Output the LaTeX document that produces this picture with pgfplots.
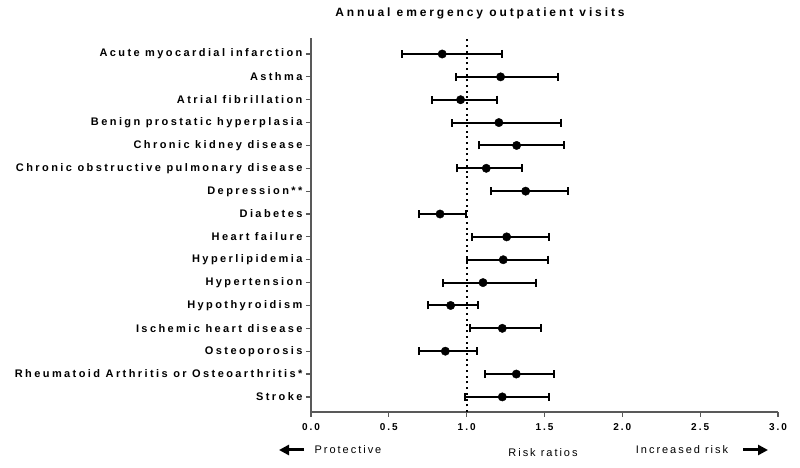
\documentclass[border=0pt]{standalone}
\usepackage{fontspec}
\setmainfont{Liberation Sans}
\newfontfamily\spaced[LetterSpace=20]{Liberation Sans}
\usepackage{pgfplots}
\usepackage{pgfplotstable}
\pgfplotsset{compat=1.18}
\usetikzlibrary{arrows.meta}

% pos = row from bottom, rr = risk ratio, lo/hi = 95% CI
\pgfplotstableread{
pos rr    lo    hi
16  0.843 0.583 1.229
15  1.218 0.931 1.589
14  0.961 0.775 1.197
13  1.207 0.906 1.606
12  1.321 1.077 1.623
11  1.126 0.938 1.357
10  1.379 1.154 1.649
9   0.829 0.694 0.994
8   1.257 1.032 1.527
7   1.235 1.004 1.522
6   1.105 0.846 1.447
5   0.897 0.754 1.073
4   1.229 1.021 1.475
3   0.863 0.694 1.068
2   1.319 1.118 1.563
1   1.229 0.989 1.529
}\rrtable

\begin{document}
\begin{tikzpicture}
\useasboundingbox (-311pt,-56pt) rectangle (489pt,412pt);
\begin{axis}[
    scale only axis,
    width=467pt, height=374pt,
    xmin=0, xmax=3,
    ymin=0.34, ymax=16.7,
    axis x line*=bottom,
    axis y line*=left,
    axis line style={black!65, line width=1.4pt},
    tick align=outside,
    major tick length=5pt,
    tick style={black!65, line width=1.2pt},
    xtick={0,0.5,...,3},
    xticklabel style={font=\spaced\bfseries\fontsize{10}{11}\selectfont, yshift=-3pt},
    /pgf/number format/.cd, fixed, fixed zerofill, precision=1,
    /pgf/number format/assume math mode=true,
    /pgfplots/.cd,
    ytick={1,...,16},
    yticklabels={
        Stroke,
        Rheumatoid Arthritis or Osteoarthritis*,
        Osteoporosis,
        Ischemic heart disease,
        Hypothyroidism,
        Hypertension,
        Hyperlipidemia,
        Heart failure,
        Diabetes,
        Depression**,
        Chronic obstructive pulmonary disease,
        Chronic kidney disease,
        Benign prostatic hyperplasia,
        Atrial fibrillation,
        Asthma,
        Acute myocardial infarction
    },
    yticklabel style={font=\spaced\addfontfeature{LetterSpace=22}\bfseries\fontsize{11}{12}\selectfont},
    clip=false,
]
% reference line at RR = 1
\addplot[black, line width=2pt, dash pattern=on 2pt off 3.7pt] coordinates {(1,0.34) (1,16.7)};

\addplot[
    only marks, black,
    mark=*, mark size=4.2pt,
    error bars/.cd,
        x dir=both, x explicit,
        error mark=|,
        error bar style={line width=2pt, black},
        error mark options={line width=2pt, mark size=4pt, black},
] table[
    x=rr, y=pos,
    x error plus expr=\thisrow{hi}-\thisrow{rr},
    x error minus expr=\thisrow{rr}-\thisrow{lo},
] {\rrtable};
\end{axis}

\node[font=\spaced\addfontfeature{LetterSpace=24}\bfseries\fontsize{12}{13}\selectfont] at (169pt,399pt) {Annual emergency outpatient visits};
\node[font=\spaced\addfontfeature{LetterSpace=18}\fontsize{11}{12}\selectfont] at (37pt,-38pt) {Protective};
\node[font=\spaced\addfontfeature{LetterSpace=18}\fontsize{11}{12}\selectfont] at (232pt,-41pt) {Risk ratios};
\node[font=\spaced\addfontfeature{LetterSpace=18}\fontsize{11}{12}\selectfont] at (371pt,-38pt) {Increased risk};
\draw[line width=3pt, -{Triangle[length=10pt,width=10pt]}] (-7pt,-38pt) -- (-32pt,-38pt);
\draw[line width=3pt, -{Triangle[length=10pt,width=10pt]}] (432pt,-38pt) -- (457pt,-38pt);
\end{tikzpicture}
\end{document}
